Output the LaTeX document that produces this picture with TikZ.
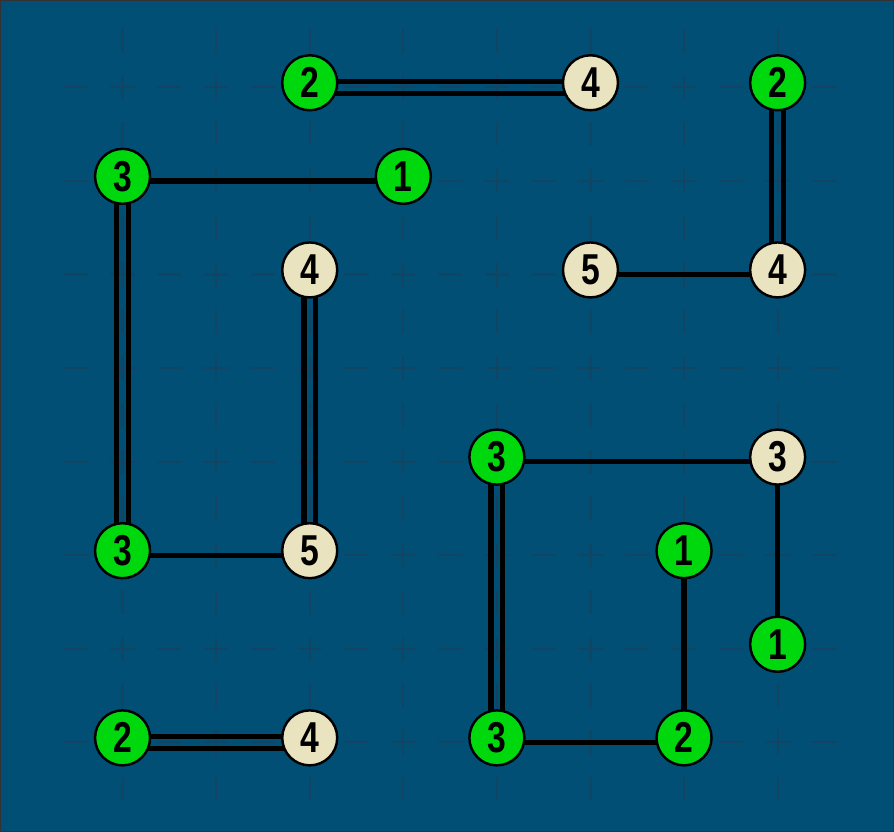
\documentclass[tikz,border=0pt]{standalone}
\usepackage{fontspec}
\setmainfont{Liberation Sans}
\usepackage{graphicx}
\usepackage{xcolor}

\definecolor{boardblue}{HTML}{024F76}
\definecolor{gridblue}{HTML}{114563}
\definecolor{islegreen}{HTML}{00D80E}
\definecolor{islecream}{HTML}{EAE3BF}

\pgfdeclarelayer{board}
\pgfdeclarelayer{bridges}
\pgfsetlayers{board,bridges,main}

\newcommand{\isl}[1]{\scalebox{0.78}[1]{\bfseries #1}}

\begin{document}
\begin{tikzpicture}[
    x=0.9360cm, y=0.9360cm,
    isle/.style={
        circle,
        draw=black,
        line width=0.7pt,
        minimum size=0.55cm,
        inner sep=0pt,
        yshift=1.3pt,
        font=\fontsize{12.3}{12.3}\selectfont
    },
    solved/.style={isle, fill=islegreen},
    unsolved/.style={isle, fill=islecream},
    bridge/.style={
        line width=1.5pt,
        black,
        transform canvas={yshift=-1.3pt}
    },
    gridline/.style={
        gridblue,
        line width=0.6pt,
        dash pattern=on 0.243cm off 0.225cm
    }
]

% Board
\begin{pgfonlayer}{board}
\fill[boardblue] (-1.309,-0.956) rectangle (8.243,7.933);
\foreach \i in {0,...,7} {
    \draw[gridline] (\i,7.63) -- (\i,-0.63);
    \draw[gridline] (-0.63,\i) -- (7.63,\i);
}
\draw[black!80, line width=0.4pt] (-1.302,-0.949) rectangle (8.236,7.926);
\end{pgfonlayer}
\useasboundingbox (-1.309,-0.956) rectangle (8.243,7.933);

% Row 7
\node[solved] (c2r7) at (2,7) {\isl{2}};
\node[unsolved] (c5r7) at (5,7) {\isl{4}};
\node[solved] (c7r7) at (7,7) {\isl{2}};

% Row 6
\node[solved] (c0r6) at (0,6) {\isl{3}};
\node[solved] (c3r6) at (3,6) {\isl{1}};

% Row 5
\node[unsolved] (c2r5) at (2,5) {\isl{4}};
\node[unsolved] (c5r5) at (5,5) {\isl{5}};
\node[unsolved] (c7r5) at (7,5) {\isl{4}};

% Row 3
\node[solved] (c4r3) at (4,3) {\isl{3}};
\node[unsolved] (c7r3) at (7,3) {\isl{3}};

% Row 2
\node[solved] (c0r2) at (0,2) {\isl{3}};
\node[unsolved] (c2r2) at (2,2) {\isl{5}};
\node[solved] (c6r2) at (6,2) {\isl{1}};

% Row 1
\node[solved] (c7r1) at (7,1) {\isl{1}};

% Row 0
\node[solved] (c0r0) at (0,0) {\isl{2}};
\node[unsolved] (c2r0) at (2,0) {\isl{4}};
\node[solved] (c4r0) at (4,0) {\isl{3}};
\node[solved] (c6r0) at (6,0) {\isl{2}};

% Bridges
\begin{pgfonlayer}{bridges}
\draw[bridge] ([yshift=1.65pt]c2r7.center) -- ([yshift=1.65pt]c5r7.center);
\draw[bridge] ([yshift=-1.65pt]c2r7.center) -- ([yshift=-1.65pt]c5r7.center);
\draw[bridge] ([xshift=-1.65pt]c7r7.center) -- ([xshift=-1.65pt]c7r5.center);
\draw[bridge] ([xshift=1.65pt]c7r7.center) -- ([xshift=1.65pt]c7r5.center);
\draw[bridge] (c0r6.center) -- (c3r6.center);
\draw[bridge] (c5r5.center) -- (c7r5.center);
\draw[bridge] ([xshift=-1.65pt]c0r6.center) -- ([xshift=-1.65pt]c0r2.center);
\draw[bridge] ([xshift=1.65pt]c0r6.center) -- ([xshift=1.65pt]c0r2.center);
\draw[bridge] ([xshift=-1.65pt]c2r5.center) -- ([xshift=-1.65pt]c2r2.center);
\draw[bridge] ([xshift=1.65pt]c2r5.center) -- ([xshift=1.65pt]c2r2.center);
\draw[bridge] (c0r2.center) -- (c2r2.center);
\draw[bridge] (c4r3.center) -- (c7r3.center);
\draw[bridge] (c7r3.center) -- (c7r1.center);
\draw[bridge] ([xshift=-1.65pt]c4r3.center) -- ([xshift=-1.65pt]c4r0.center);
\draw[bridge] ([xshift=1.65pt]c4r3.center) -- ([xshift=1.65pt]c4r0.center);
\draw[bridge] (c4r0.center) -- (c6r0.center);
\draw[bridge] (c6r2.center) -- (c6r0.center);
\draw[bridge] ([yshift=1.65pt]c0r0.center) -- ([yshift=1.65pt]c2r0.center);
\draw[bridge] ([yshift=-1.65pt]c0r0.center) -- ([yshift=-1.65pt]c2r0.center);
\end{pgfonlayer}

\end{tikzpicture}
\end{document}
